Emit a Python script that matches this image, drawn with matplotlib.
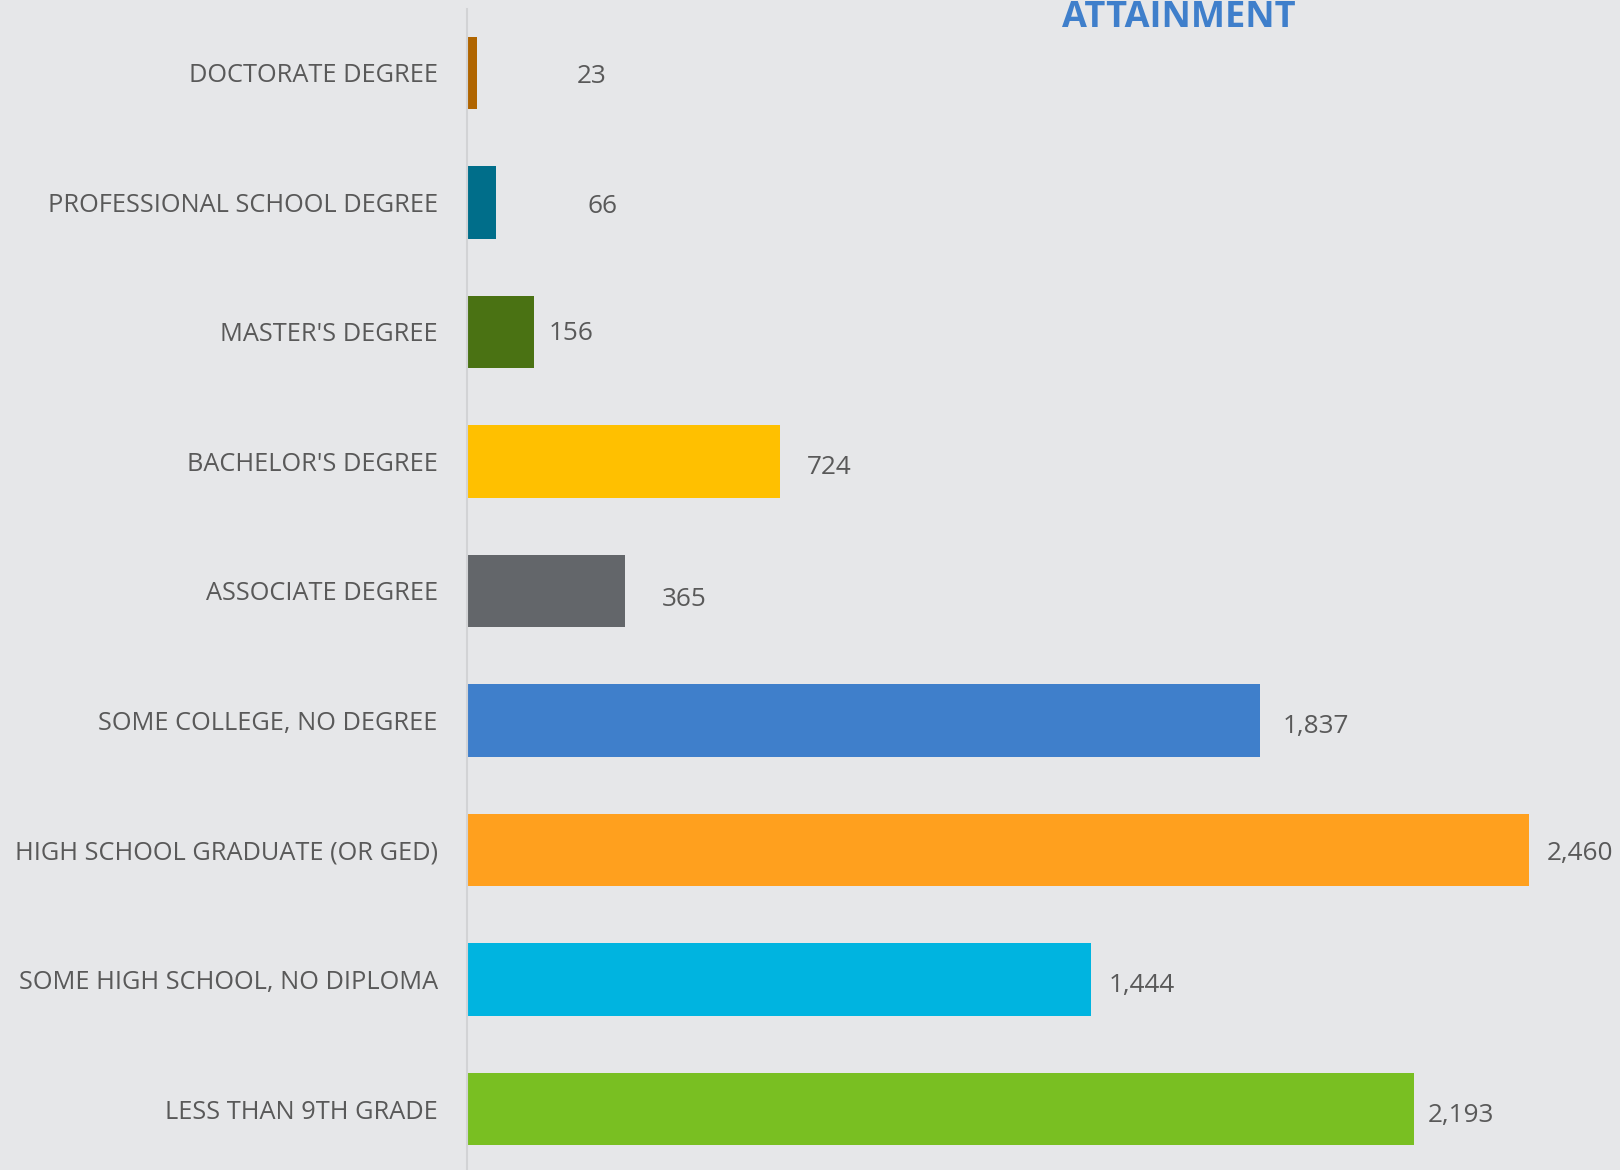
import matplotlib
matplotlib.use("Agg")
import matplotlib.pyplot as plt

categories = [
    "LESS THAN 9TH GRADE",
    "SOME HIGH SCHOOL, NO DIPLOMA",
    "HIGH SCHOOL GRADUATE (OR GED)",
    "SOME COLLEGE, NO DEGREE",
    "ASSOCIATE DEGREE",
    "BACHELOR'S DEGREE",
    "MASTER'S DEGREE",
    "PROFESSIONAL SCHOOL DEGREE",
    "DOCTORATE DEGREE",
]
values = [2193, 1444, 2460, 1837, 365, 724, 156, 66, 23]
value_labels = ["2,193", "1,444", "2,460", "1,837", "365", "724", "156", "66", "23"]
colors = ["#79BF22", "#00B4E0", "#FFA01E", "#3F7FCB", "#63666A",
          "#FFC000", "#4A7213", "#006E8A", "#B06500"]
# label gaps (px) and vertical shifts (px) as seen in the reference
label_gap_px = [14, 18, 17, 22, 37, 27, 14, 92, 100]
label_dy_px = [-6, -6, -3, -6, -9, -6, -2, -4, -4]

BG = "#E6E7E9"
TXT = "#595959"
FONT = "Open Sans"
W, H = 1620, 1170
DPI = 100

fig = plt.figure(figsize=(W / DPI, H / DPI), dpi=DPI, facecolor=BG)
ax_left = 467 / W
ax_top = 1 - 8 / H
ax_bottom = 1 - 1174 / H
ax = fig.add_axes([ax_left, ax_bottom, 1 - ax_left, ax_top - ax_bottom])
ax.set_facecolor(BG)

y = list(range(len(categories)))
ax.barh(y, values, height=0.56, color=colors, zorder=2)
ax.set_ylim(-0.5, len(categories) - 0.5)
xmax = (W - 467) / ((1414 - 467) / 2193)
ax.set_xlim(0, xmax)

ax.set_yticks(y)
ax.set_yticklabels(categories, fontsize=18.3, color=TXT, family=FONT)
ax.tick_params(axis="y", length=0, pad=21)
ax.set_xticks([])

for s in ["top", "right", "bottom"]:
    ax.spines[s].set_visible(False)
ax.spines["left"].set_color("#D2D3D5")
ax.spines["left"].set_linewidth(1.5)
ax.spines["left"].set_bounds(-0.5, len(categories) - 0.5 - 1 / 129.6)

for yi, v, lab, gap, dy in zip(y, values, value_labels, label_gap_px, label_dy_px):
    ax.annotate(lab, xy=(v, yi), xytext=(gap * 72 / DPI, dy * 72 / DPI),
                textcoords="offset points", ha="left", va="center",
                fontsize=18.8, color=TXT, family=FONT)

fig.text(1179 / W, 1 - 27 / H, "ATTAINMENT", ha="center", va="baseline",
         fontsize=26, fontweight="bold", color="#3F7FCB", family=FONT)

fig.savefig("out.png", dpi=DPI, facecolor=BG)
